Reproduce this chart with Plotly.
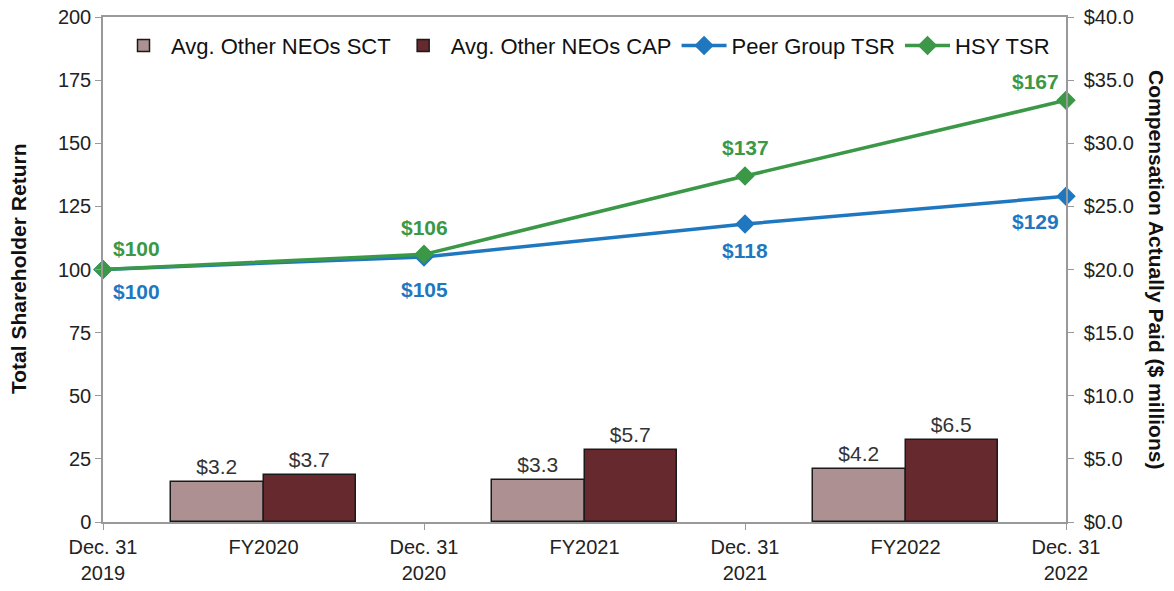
import plotly.graph_objects as go

tick_labels = ["Dec. 31<br>2019", "FY2020", "Dec. 31<br>2020", "FY2021",
               "Dec. 31<br>2021", "FY2022", "Dec. 31<br>2022"]
tick_pos = [0, 1, 2, 3, 4, 5, 6]

fy_pos = [1, 3, 5]
sct_vals = [3.2, 3.3, 4.2]
cap_vals = [3.7, 5.7, 6.5]

date_pos = [0, 2, 4, 6]
peer_tsr = [100, 105, 118, 129]
hsy_tsr = [100, 106, 137, 167]

left_ticks = [0, 25, 50, 75, 100, 125, 150, 175, 200]
right_ticks = [0, 5, 10, 15, 20, 25, 30, 35, 40]

SCT_C = "#AD9091"
CAP_C = "#66292D"
PEER_C = "#1F78BF"
HSY_C = "#3A9846"
FONT = "Liberation Sans, Arial, sans-serif"

fig = go.Figure()
bw = 0.575
fig.add_trace(go.Bar(
    x=fy_pos, y=sct_vals, width=bw, offset=-bw, name="Avg. Other NEOs SCT",
    marker=dict(color=SCT_C, line=dict(color="#1a1a1a", width=1.5)),
    text=[f"${v:.1f}" for v in sct_vals], textposition="outside",
    textfont=dict(size=21, color="#333333", family=FONT), cliponaxis=False,
    yaxis="y2"))
fig.add_trace(go.Bar(
    x=fy_pos, y=cap_vals, width=bw, offset=0, name="Avg. Other NEOs CAP",
    marker=dict(color=CAP_C, line=dict(color="#1a1a1a", width=1.5)),
    text=[f"${v:.1f}" for v in cap_vals], textposition="outside",
    textfont=dict(size=21, color="#333333", family=FONT), cliponaxis=False,
    yaxis="y2"))
fig.add_trace(go.Scatter(
    x=date_pos, y=peer_tsr, mode="lines+markers", name="Peer Group TSR",
    line=dict(color=PEER_C, width=3.5),
    marker=dict(symbol="diamond", size=15, color=PEER_C), cliponaxis=False))
fig.add_trace(go.Scatter(
    x=date_pos, y=hsy_tsr, mode="lines+markers", name="HSY TSR",
    line=dict(color=HSY_C, width=3.5),
    marker=dict(symbol="diamond", size=15, color=HSY_C), cliponaxis=False))

peer_shift = [(33, -22), (0, -33), (0, -26), (-31, -25)]
hsy_shift = [(33, 21), (0, 27), (0, 29), (-31, 19)]
for (x, y, (dx, dy)) in zip(date_pos, peer_tsr, peer_shift):
    fig.add_annotation(x=x, y=y, text=f"<b>${y}</b>", showarrow=False,
                       xshift=dx, yshift=dy,
                       font=dict(size=21, color=PEER_C, family=FONT))
for (x, y, (dx, dy)) in zip(date_pos, hsy_tsr, hsy_shift):
    fig.add_annotation(x=x, y=y, text=f"<b>${y}</b>", showarrow=False,
                       xshift=dx, yshift=dy,
                       font=dict(size=21, color=HSY_C, family=FONT))

fig.add_annotation(xref="paper", yref="paper", x=1.0, xshift=104, y=0.5,
                   text="<b>Compensation Actually Paid ($ millions)</b>",
                   textangle=90, showarrow=False,
                   font=dict(size=21, color="#111111", family=FONT))
fig.add_annotation(xref="paper", yref="paper", x=0.0, xshift=-98, y=0.5,
                   text="<b>Total Shareholder Return</b>",
                   textangle=-90, showarrow=False,
                   font=dict(size=21, color="#111111", family=FONT))

fig.update_layout(
    width=1174, height=591,
    margin=dict(l=103, r=108, t=17, b=69, autoexpand=False),
    paper_bgcolor="white", plot_bgcolor="white",
    font=dict(family=FONT, size=20, color="#222222"),
    showlegend=True,
    legend=dict(orientation="h", x=0.0135, y=0.985, xanchor="left", yanchor="top",
                font=dict(size=22, family=FONT, color="#111111"),
                bgcolor="rgba(0,0,0,0)", itemwidth=45),
    bargap=0,
    xaxis=dict(range=[0, 6], tickmode="array", tickvals=tick_pos, ticktext=tick_labels,
               showline=True, linecolor="#999999", linewidth=1.5, mirror=True,
               ticks="", showgrid=False, zeroline=False, automargin=False,
               ticklabelstandoff=6,
               minor=dict(tickmode="array", tickvals=date_pos, ticks="outside",
                          ticklen=6, tickcolor="#999999"),
               tickfont=dict(size=20, color="#222222")),
    yaxis=dict(range=[0, 200], tickvals=left_ticks,
               showline=True, linecolor="#999999", linewidth=1.5,
               ticks="outside", ticklen=6, tickcolor="#999999",
               showgrid=False, zeroline=False, automargin=False,
               tickfont=dict(size=20, color="#222222")),
    yaxis2=dict(range=[0, 40], overlaying="y", side="right",
                tickvals=right_ticks,
                ticktext=[f"${v:.1f}" for v in right_ticks],
                showline=True, linecolor="#999999", linewidth=1.5,
                ticks="outside", ticklen=6, tickcolor="#999999",
                showgrid=False, zeroline=False, automargin=False,
                ticklabelstandoff=6,
                tickfont=dict(size=20, color="#222222")),
)

fig.write_html("out.html", config={"displayModeBar": False},
               post_script="document.body.style.margin='0';")
